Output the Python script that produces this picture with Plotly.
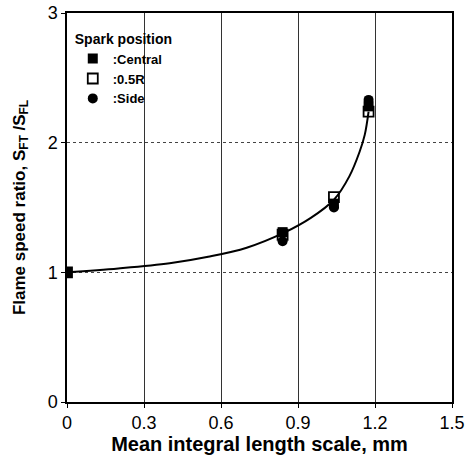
import plotly.graph_objects as go

# Data
central_x = [0.0, 0.84, 1.04, 1.175]
central_y = [1.0, 1.31, 1.53, 2.28]
half_r_x = [0.0, 0.84, 1.04, 1.175]
half_r_y = [1.0, 1.29, 1.58, 2.24]
side_x = [0.0, 0.84, 1.04, 1.175]
side_y = [1.0, 1.24, 1.50, 2.33]

curve_x = [0.0, 0.2, 0.4, 0.55, 0.7, 0.85, 0.95, 1.04, 1.1, 1.14, 1.16, 1.175]
curve_y = [1.0, 1.03, 1.07, 1.12, 1.19, 1.31, 1.42, 1.56, 1.74, 1.93, 2.06, 2.24]

x_ticks = [0, 0.3, 0.6, 0.9, 1.2, 1.5]
x_tick_labels = ["0", "0.3", "0.6", "0.9", "1.2", "1.5"]
y_ticks = [0, 1, 2, 3]
y_tick_labels = ["0", "1", "2", "3"]

FONT = "Liberation Sans, Arial, sans-serif"

fig = go.Figure()
fig.add_trace(go.Scatter(x=curve_x, y=curve_y, mode="lines", line=dict(color="black", width=2, shape="spline"),
                         showlegend=False, hoverinfo="skip"))
fig.add_trace(go.Scatter(x=central_x, y=central_y, mode="markers", name="<b>:Central</b>",
                         marker=dict(symbol="square", size=10, color="black")))
fig.add_trace(go.Scatter(x=half_r_x, y=half_r_y, mode="markers", name="<b>:0.5R</b>",
                         marker=dict(symbol="square-open", size=10, color="black", line=dict(width=1.8, color="black"))))
fig.add_trace(go.Scatter(x=side_x, y=side_y, mode="markers", name="<b>:Side</b>",
                         marker=dict(symbol="circle", size=10, color="black")))

fig.update_layout(
    width=466, height=457,
    margin=dict(l=67, r=14, t=13, b=55),
    plot_bgcolor="white", paper_bgcolor="white",
    font=dict(family=FONT, color="black"),
    legend=dict(
        title=dict(text="<b>Spark position</b>", font=dict(size=14)),
        x=0.015, y=0.968, xanchor="left", yanchor="top",
        bgcolor="rgba(255,255,255,0)", font=dict(size=13),
        traceorder="normal", itemwidth=30, tracegroupgap=0,
    ),
)

fig.update_xaxes(
    range=[0, 1.5], tickvals=x_ticks, ticktext=x_tick_labels,
    showline=True, linecolor="black", linewidth=1.5, mirror=True,
    showgrid=True, gridcolor="#333", gridwidth=1,
    ticks="outside", ticklen=4, tickcolor="black",
    tickfont=dict(size=18),
    title=dict(text="<b>Mean integral length scale, mm</b>\u00a0\u00a0\u00a0", font=dict(size=20), standoff=3),
    zeroline=False, automargin=False,
)
fig.update_yaxes(
    range=[0, 3], tickvals=y_ticks, ticktext=y_tick_labels,
    showline=True, linecolor="black", linewidth=1.5, mirror=True,
    showgrid=True, gridcolor="#444", gridwidth=1, griddash="dot",
    ticks="outside", ticklen=4, tickcolor="black",
    tickfont=dict(size=18),
    title=dict(text="<b>Flame speed ratio, S<sub>FT</sub> /S<sub>FL</sub></b>", font=dict(size=17), standoff=18),
    zeroline=False, automargin=False,
)

# remove the default 8px page margin so the figure fills the window exactly
fig.write_html("out.html", config={"displayModeBar": False},
               post_script="document.body.style.margin='0';document.body.style.overflow='hidden';")
